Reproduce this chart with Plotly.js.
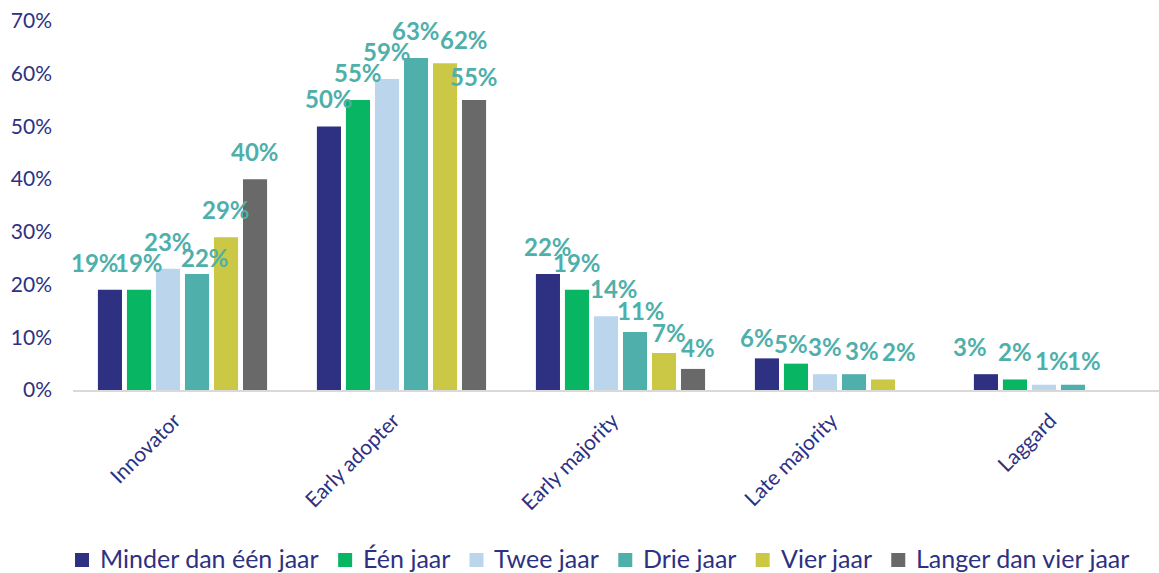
<!DOCTYPE html>
<html>
<head>
<meta charset="utf-8">
<script src="https://cdn.plot.ly/plotly-3.0.1.min.js"></script>
<style>html,body{margin:0;padding:0;background:#fff;}#chart{width:1159px;height:573px;}</style>
</head>
<body>
<div id="chart"></div>
<script>
const categories = ["Innovator", "Early adopter", "Early majority", "Late majority", "Laggard"];
const seriesNames = ["Minder dan één jaar", "Één jaar", "Twee jaar", "Drie jaar", "Vier jaar", "Langer dan vier jaar"];
const minderDanEenJaar = [0.19, 0.50, 0.22, 0.06, 0.03];
const eenJaar = [0.19, 0.55, 0.19, 0.05, 0.02];
const tweeJaar = [0.23, 0.59, 0.14, 0.03, 0.01];
const drieJaar = [0.22, 0.63, 0.11, 0.03, 0.01];
const vierJaar = [0.29, 0.62, 0.07, 0.02, null];
const langerDanVierJaar = [0.40, 0.55, 0.04, null, null];
const yTickValues = [0, 0.1, 0.2, 0.3, 0.4, 0.5, 0.6, 0.7];
const yTickLabels = ["0%", "10%", "20%", "30%", "40%", "50%", "60%", "70%"];

const seriesValues = [minderDanEenJaar, eenJaar, tweeJaar, drieJaar, vierJaar, langerDanVierJaar];
const colors = ["#2E3182", "#08B562", "#BBD6EC", "#4FAFAB", "#CBC845", "#696969"];
const navy = "#2E3182";
const labelColor = "#4FAFAB";
const fontFam = "Lato, 'Open Sans', sans-serif";

// layout geometry
const W = 1159, H = 573;
const margin = { l: 73, r: 0, t: 21, b: 183 };
const xRange = [-0.5, 4.459];
const bargap = 0.205, bargroupgap = 0.17;
const plotW = W - margin.l - margin.r;
const plotH = H - margin.t - margin.b;
const catPx = plotW / (xRange[1] - xRange[0]);
const slotPx = catPx * (1 - bargap) / seriesValues.length;

// manual label placement tweaks (pixel nudges, styling only): "series,category": [dx, dy]
const labelNudge = {
  "0,0": [-15, 0], "3,0": [8, -11],
  "4,1": [19, -4], "5,1": [0, -4],
  "2,2": [8, 0], "3,2": [6, -6], "4,2": [5, -7], "5,2": [5, -6],
  "0,3": [-10, -7], "1,3": [-5, -7], "3,3": [8, -4], "4,3": [16, 0],
  "0,4": [-16, 0], "2,4": [8, -3], "3,4": [11, -3]
};

const traces = seriesValues.map((vals, i) => ({
  type: "bar",
  name: seriesNames[i],
  x: categories,
  y: vals,
  marker: { color: colors[i] },
  hoverinfo: "none",
  showlegend: false
}));

const annotations = [];
seriesValues.forEach((vals, i) => {
  vals.forEach((v, j) => {
    if (v == null) return;
    const n = labelNudge[i + "," + j] || [0, 0];
    annotations.push({
      x: categories[j],
      y: v,
      xref: "x", yref: "y",
      text: Math.round(v * 100) + "%",
      showarrow: false,
      xanchor: "center",
      yanchor: "bottom",
      xshift: (i - (seriesValues.length - 1) / 2) * slotPx + n[0],
      yshift: 11 + n[1],
      font: { family: fontFam, size: 24, color: labelColor, weight: "bold" }
    });
  });
});

// manual legend (squares + texts) laid out left to right
const legendFontSize = 25;
const canvas = document.createElement("canvas");
const ctx = canvas.getContext("2d");
ctx.font = legendFontSize + "px Lato";
const shapes = [];
let lx = 75;              // px from left of page
const symSize = 14, symTextGap = 9, itemGap = 21;
const legendMidY = 558;   // px from top of page
const toPaperX = px => (px - margin.l) / plotW;
const toPaperY = py => (H - margin.b - py) / plotH;
seriesNames.forEach((name, i) => {
  shapes.push({
    type: "rect", xref: "paper", yref: "paper",
    x0: toPaperX(lx), x1: toPaperX(lx + symSize),
    y0: toPaperY(legendMidY + 2 + symSize / 2), y1: toPaperY(legendMidY + 2 - symSize / 2),
    fillcolor: colors[i], line: { width: 0 }
  });
  const tx = lx + symSize + symTextGap;
  annotations.push({
    xref: "paper", yref: "paper",
    x: toPaperX(tx), y: toPaperY(legendMidY),
    xanchor: "left", yanchor: "middle",
    text: name, showarrow: false,
    font: { family: fontFam, size: legendFontSize, color: navy }
  });
  lx = tx + ctx.measureText(name).width + itemGap;
});

const layout = {
  width: W,
  height: H,
  margin: Object.assign({ autoexpand: false }, margin),
  paper_bgcolor: "#fff",
  plot_bgcolor: "#fff",
  barmode: "group",
  bargap: bargap,
  bargroupgap: bargroupgap,
  showlegend: false,
  annotations: annotations,
  shapes: shapes,
  xaxis: {
    type: "category",
    range: xRange,
    automargin: false,
    tickangle: -45,
    tickfont: { family: fontFam, size: 21, color: navy },
    ticklabelstandoff: 8,
    ticklabelshift: -8,
    showline: true,
    linecolor: "#D9D9D9",
    linewidth: 2,
    ticks: "",
    showgrid: false,
    zeroline: false
  },
  yaxis: {
    range: [0, 0.7],
    automargin: false,
    tickvals: yTickValues,
    ticktext: yTickLabels,
    tickfont: { family: fontFam, size: 21, color: navy },
    showgrid: false,
    zeroline: false,
    showline: false,
    ticks: "",
    ticklabelstandoff: 20
  }
};

Plotly.newPlot("chart", traces, layout, { displayModeBar: false, staticPlot: true });
</script>
</body>
</html>
